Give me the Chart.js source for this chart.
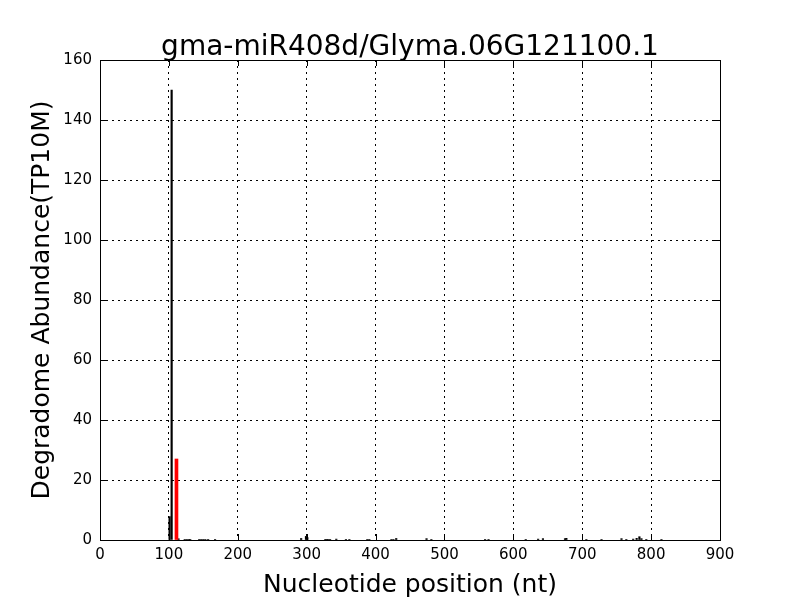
<!DOCTYPE html>
<html><head><meta charset="utf-8">
<script src="https://cdn.jsdelivr.net/npm/chart.js@4/dist/chart.umd.min.js"></script>
<style>html,body{margin:0;padding:0;background:#fff}#wrap{width:800px;height:600px}</style>
</head><body><div id="wrap"><canvas id="c" width="800" height="600"></canvas></div>
<script>
const titleText = "gma-miR408d/Glyma.06G121100.1";
const xLabel = "Nucleotide position (nt)";
const yLabel = "Degradome Abundance(TP10M)";
const xTicks = [0,100,200,300,400,500,600,700,800,900];
const yTicks = [0,20,40,60,80,100,120,140,160];
// black: degradome tags at each position
const blackPos = [101,104,114,123,126,129,131,144,147,150,153,157,167,292,299,301,327,329,331,334,343,357,362,388,391,423,426,430,474,481,559,564,618,636,643,675,677,706,728,757,764,774,779,783,786,793,815];
const blackVal = [7.8,150,0.4,0.2,0.2,0.2,0.2,0.2,0.2,0.2,0.2,0.2,0.2,0.5,1.2,0.8,0.2,0.2,0.2,0.2,0.3,0.2,0.2,0.2,0.2,0.2,0.2,0.5,0.45,0.2,0.2,0.2,0.2,0.3,0.45,0.45,0.55,0.2,0.2,0.45,0.2,0.3,0.55,1.1,0.45,0.2,0.2];
// red: predicted cleavage site
const redPos = [111];
const redVal = [27];

const blackData = blackPos.map((p,i)=>({x:p,y:blackVal[i]}));
const redData = redPos.map((p,i)=>({x:p,y:redVal[i]}));

const frameTicks = {
  id:'frameTicks',
  afterDraw(chart){
    const {ctx, chartArea:a, scales:{x,y}} = chart;
    ctx.save();
    ctx.strokeStyle='#000'; ctx.lineWidth=1; ctx.setLineDash([]);
    const L=6;
    ctx.beginPath();
    xTicks.forEach(v=>{const px=Math.round(x.getPixelForValue(v))+0.5;
      ctx.moveTo(px,a.bottom); ctx.lineTo(px,a.bottom-L);
      ctx.moveTo(px,a.top); ctx.lineTo(px,a.top+L);});
    yTicks.forEach(v=>{const py=Math.round(y.getPixelForValue(v))+0.5;
      ctx.moveTo(a.left,py); ctx.lineTo(a.left+L,py);
      ctx.moveTo(a.right,py); ctx.lineTo(a.right-L,py);});
    ctx.stroke();
    ctx.strokeRect(Math.round(a.left)+0.5, Math.round(a.top)+0.5, Math.round(a.right-a.left), Math.round(a.bottom-a.top));
    // title centred over the plot area
    ctx.fillStyle='#000';
    ctx.font='28px "DejaVu Sans"';
    ctx.textAlign='center'; ctx.textBaseline='alphabetic';
    ctx.fillText(titleText, (a.left+a.right)/2, 55);
    ctx.restore();
  }
};

new Chart(document.getElementById('c'), {
  type:'bar',
  data:{datasets:[
    {label:'tags', data:blackData, backgroundColor:'#000', borderWidth:0, barThickness:1.5, grouped:false, order:2},
    {label:'cleavage', data:redData, backgroundColor:'#ff0000', borderWidth:0, barThickness:3, grouped:false, order:1}
  ]},
  options:{
    responsive:false, animation:false,
    layout:{padding:{left:0,right:80,top:60,bottom:0}},
    plugins:{
      legend:{display:false}, tooltip:{enabled:false}, title:{display:false}
    },
    scales:{
      x:{type:'linear', min:0, max:900, offset:false,
        afterBuildTicks(s){s.ticks = xTicks.map(v=>({value:v}));},
        afterFit(s){s.height=60;},
        grid:{color:'#000', lineWidth:1, drawTicks:false, offset:false},
        border:{display:false, dash:[2,4]},
        ticks:{color:'#000', font:{family:'DejaVu Sans', size:15}, padding:6, maxRotation:0},
        title:{display:true, text:xLabel, color:'#000', font:{family:'DejaVu Sans', size:25}, padding:{top:2,bottom:0}}
      },
      y:{min:0, max:160,
        afterBuildTicks(s){s.ticks = yTicks.map(v=>({value:v}));},
        afterFit(s){s.width=100;},
        grid:{color:'#000', lineWidth:1, drawTicks:false},
        border:{display:false, dash:[2,4]},
        ticks:{color:'#000', font:{family:'DejaVu Sans', size:15}, padding:8},
        title:{display:true, text:yLabel, color:'#000', font:{family:'DejaVu Sans', size:25}, padding:{top:27,bottom:0}}
      }
    }
  },
  plugins:[frameTicks]
});
</script></body></html>
